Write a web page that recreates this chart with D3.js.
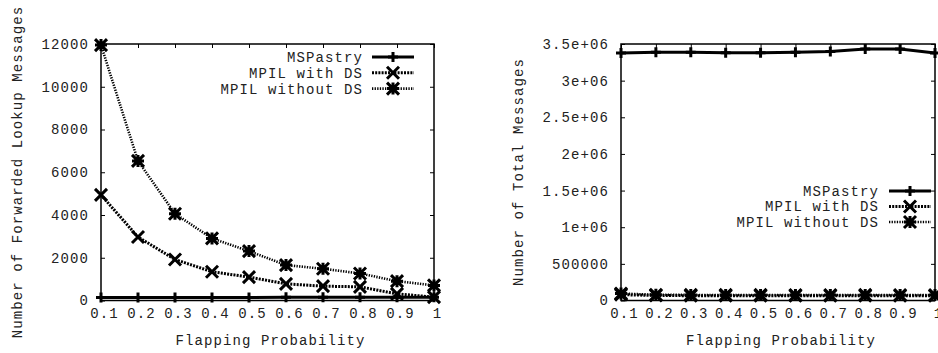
<!DOCTYPE html>
<html>
<head>
<meta charset="utf-8">
<script src="https://cdn.jsdelivr.net/npm/d3@7"></script>
<style>
  html, body { margin: 0; padding: 0; background: #fff; }
  svg { display: block; }
  text { font-family: "Liberation Mono", "Courier New", monospace; font-size: 14px; fill: #222; letter-spacing: 1.1px; }
</style>
</head>
<body>
<svg id="chart" width="938" height="353"></svg>
<script>
// ---- data ----
const flapProb = [0.1, 0.2, 0.3, 0.4, 0.5, 0.6, 0.7, 0.8, 0.9, 1.0];
const xTickLabels = ["0.1", "0.2", "0.3", "0.4", "0.5", "0.6", "0.7", "0.8", "0.9", "1"];
const seriesNames = ["MSPastry", "MPIL with DS", "MPIL without DS"];

// left chart: Number of Forwarded Lookup Messages
const fwdMSPastry = [140, 140, 140, 145, 145, 150, 150, 150, 155, 155];
const fwdWithDS = [4940, 2970, 1920, 1345, 1095, 780, 670, 640, 310, 160];
const fwdWithoutDS = [11950, 6530, 4060, 2905, 2310, 1655, 1485, 1265, 905, 705];
const fwdYTicks = [0, 2000, 4000, 6000, 8000, 10000, 12000];

// right chart: Number of Total Messages
const totMSPastry = [3377000, 3386000, 3386000, 3380000, 3380000, 3386000, 3397000, 3432000, 3432000, 3377000];
const totWithDS = [80000, 68000, 66000, 66000, 66000, 65000, 65000, 66000, 65000, 64000];
const totWithoutDS = [95000, 78000, 76000, 76000, 76000, 75000, 75000, 76000, 75000, 74000];
const totYTicks = [0, 500000, 1000000, 1500000, 2000000, 2500000, 3000000, 3500000];
const totYTickLabels = ["0", "500000", "1e+06", "1.5e+06", "2e+06", "2.5e+06", "3e+06", "3.5e+06"];

// ---- styles ----
const styles = [
  { dash: null, width: 3, marker: "plus", ms: 5 },
  { dash: "2,1.2", width: 3, marker: "cross", ms: 6 },
  { dash: "1.3,1.3", width: 2.6, marker: "star", ms: 6 }
];

function markerPath(type, s) {
  const plus = `M${-s},0H${s}M0,${-s}V${s}`;
  const cross = `M${-s},${-s}L${s},${s}M${-s},${s}L${s},${-s}`;
  if (type === "plus") return plus;
  if (type === "cross") return cross;
  return plus + cross;
}

const svg = d3.select("#chart");

function drawChart(cfg) {
  const g = svg.append("g");
  const x = d3.scaleLinear().domain([0.1, 1]).range([cfg.left, cfg.right]);
  const y = d3.scaleLinear().domain([0, cfg.yMax]).range([cfg.bottom, cfg.top]);

  // axes with inward ticks (gnuplot style)
  const tl = 4;
  const xAxisB = d3.axisBottom(x).tickValues(flapProb).tickFormat((d, i) => xTickLabels[i]).tickSizeInner(-tl).tickSizeOuter(0).tickPadding(10);
  const xAxisT = d3.axisTop(x).tickValues(flapProb).tickFormat("").tickSizeInner(-tl).tickSizeOuter(0);
  const yAxisL = d3.axisLeft(y).tickValues(cfg.yTicks).tickFormat((d, i) => cfg.yLabels[i]).tickSizeInner(-tl).tickSizeOuter(0).tickPadding(12);
  const yAxisR = d3.axisRight(y).tickValues(cfg.yTicks).tickFormat("").tickSizeInner(-tl).tickSizeOuter(0);

  const gb = g.append("g").attr("transform", `translate(0,${cfg.bottom})`).call(xAxisB);
  gb.selectAll("text").attr("dx", 3).attr("dy", "0.55em");
  g.append("g").attr("transform", `translate(0,${cfg.top})`).call(xAxisT);
  const gl = g.append("g").attr("transform", `translate(${cfg.left},0)`).call(yAxisL);
  g.append("g").attr("transform", `translate(${cfg.right},0)`).call(yAxisR);
  g.selectAll(".domain").remove();
  g.selectAll(".tick line").attr("stroke", "#000").attr("stroke-width", 1);
  g.selectAll(".tick text").style("font-family", '"Liberation Mono", monospace').style("font-size", "14px").attr("fill", "#222");

  // border
  g.append("rect").attr("x", cfg.left).attr("y", cfg.top)
    .attr("width", cfg.right - cfg.left).attr("height", cfg.bottom - cfg.top)
    .attr("fill", "none").attr("stroke", "#000").attr("stroke-width", 1.5);

  // axis labels
  g.append("text").attr("x", (cfg.left + cfg.right) / 2 + 3).attr("y", 345)
    .attr("text-anchor", "middle").text("Flapping Probability");
  g.append("text").attr("transform", `translate(${cfg.yLabelX},${cfg.yLabelY}) rotate(-90)`)
    .attr("text-anchor", "middle").attr("dy", "0.35em").text(cfg.yTitle);

  // series
  const line = d3.line().x((d, i) => x(flapProb[i])).y(d => y(d));
  cfg.series.forEach((vals, si) => {
    const st = styles[si];
    g.append("path").datum(vals).attr("d", line)
      .attr("fill", "none").attr("stroke", "#000").attr("stroke-width", st.width)
      .attr("stroke-dasharray", st.dash);
    g.selectAll(null).data(vals).enter().append("path")
      .attr("transform", (d, i) => `translate(${x(flapProb[i])},${y(d)})`)
      .attr("d", markerPath(st.marker, st.ms))
      .attr("fill", "none").attr("stroke", "#000").attr("stroke-width", 3);
  });

  // legend
  seriesNames.forEach((name, si) => {
    const st = styles[si];
    const ly = cfg.legY + si * cfg.legStep;
    g.append("text").attr("x", cfg.legTextX).attr("y", ly).attr("dy", "0.35em")
      .attr("text-anchor", "end").text(name);
    g.append("line").attr("x1", cfg.legLineX1).attr("x2", cfg.legLineX2).attr("y1", ly).attr("y2", ly)
      .attr("stroke", "#000").attr("stroke-width", st.width).attr("stroke-dasharray", st.dash);
    g.append("path").attr("transform", `translate(${(cfg.legLineX1 + cfg.legLineX2) / 2},${ly})`)
      .attr("d", markerPath(st.marker, st.ms)).attr("fill", "none").attr("stroke", "#000").attr("stroke-width", 3);
  });
}

drawChart({
  left: 101, right: 434, top: 44, bottom: 300.5, yMax: 12000,
  yTicks: fwdYTicks, yLabels: fwdYTicks.map(String),
  yTitle: "Number of Forwarded Lookup Messages", yLabelX: 17, yLabelY: 172,
  series: [fwdMSPastry, fwdWithDS, fwdWithoutDS],
  legY: 57, legStep: 15.8, legTextX: 363, legLineX1: 372, legLineX2: 414
});

drawChart({
  left: 621, right: 935, top: 44, bottom: 300.5, yMax: 3500000,
  yTicks: totYTicks, yLabels: totYTickLabels,
  yTitle: "Number of Total Messages", yLabelX: 518, yLabelY: 172,
  series: [totMSPastry, totWithDS, totWithoutDS],
  legY: 191, legStep: 15.5, legTextX: 879, legLineX1: 889, legLineX2: 931
});
</script>
</body>
</html>
